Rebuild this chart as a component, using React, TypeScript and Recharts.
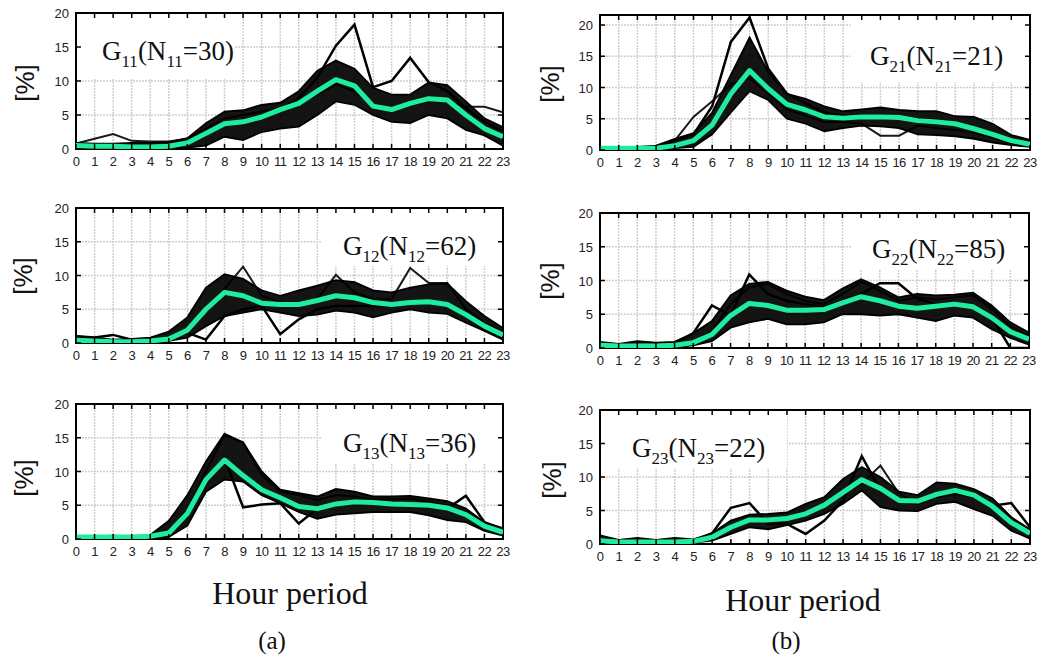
import React from 'react';
import { ComposedChart, Line, Area, XAxis, YAxis, CartesianGrid, ReferenceArea } from 'recharts';

const hours = [0,1,2,3,4,5,6,7,8,9,10,11,12,13,14,15,16,17,18,19,20,21,22,23];
const yTicks = [0, 5, 10, 15, 20];

// G11 (N=30)
const mean11 = [0.5,0.4,0.4,0.3,0.3,0.4,0.9,2.3,3.7,4.0,4.7,5.8,6.7,8.5,10.2,9.3,6.3,5.8,6.7,7.4,7.2,5.0,3.0,1.8];
const low11 = [0.2,0.1,0.1,0.1,0.1,0.1,0.2,0.5,1.8,1.3,2.5,3.0,3.3,5.0,7.0,6.5,5.0,4.0,3.8,5.0,4.5,2.8,2.0,0.5];
const high11 = [0.9,0.8,0.8,0.9,0.9,1.0,1.6,3.8,5.5,5.7,6.5,6.8,8.5,11.5,13.0,11.8,9.0,8.0,8.0,9.8,9.4,7.0,4.5,3.2];
const outA11 = [0.5,0.4,0.4,0.3,0.3,0.4,0.9,2.3,3.8,4.2,4.7,5.7,7.5,10.5,15.2,18.3,9.1,10.0,13.4,9.8,8.5,6.0,4.0,2.5];
const outB11 = [0.8,1.5,2.2,1.2,1.1,1.1,1.5,3.0,4.5,5.0,5.5,6.0,7.0,8.0,9.5,8.5,6.5,6.0,6.5,7.0,7.0,6.2,6.2,5.4];

// G12 (N=62)
const mean12 = [0.4,0.3,0.2,0.2,0.3,0.6,1.9,5.0,7.5,7.0,5.9,5.7,5.7,6.3,7.0,6.7,6.0,5.7,6.0,6.1,5.7,4.2,2.5,1.2];
const low12 = [0.1,0.1,0.1,0.1,0.2,0.3,0.8,2.5,4.0,4.5,5.0,4.5,4.0,4.2,4.8,4.5,3.8,4.5,5.0,4.5,4.3,3.0,1.8,0.5];
const high12 = [1.0,0.8,0.5,0.6,0.8,1.7,3.8,8.2,10.2,9.5,7.8,7.0,7.8,8.5,9.3,9.0,7.8,7.5,8.2,8.7,8.8,6.2,4.0,2.2];
const outA12 = [1.0,0.8,1.2,0.5,0.5,0.8,1.5,0.5,4.0,5.0,5.5,1.3,3.5,5.0,5.5,5.5,5.5,5.5,6.0,6.0,5.5,4.0,2.0,1.0];
const outB12 = [0.4,0.3,0.2,0.2,0.3,0.6,2.0,5.0,8.0,11.3,7.0,6.0,6.0,6.5,10.1,7.5,6.5,6.5,11.1,8.9,8.9,5.0,3.0,1.5];

// G13 (N=36)
const mean13 = [0.3,0.3,0.3,0.3,0.4,0.9,3.8,8.8,11.7,9.4,7.3,6.1,4.8,4.5,5.2,5.5,5.4,5.2,5.1,5.0,4.6,3.6,1.9,1.0];
const low13 = [0.1,0.1,0.1,0.1,0.1,0.3,2.0,7.0,8.8,8.5,6.5,5.3,4.0,3.0,3.6,3.8,4.0,4.0,4.0,3.5,2.8,2.5,1.2,0.5];
const high13 = [0.4,0.4,0.5,0.4,0.6,2.7,6.5,11.5,15.6,14.3,10.0,7.3,6.8,6.3,7.4,7.0,6.3,6.3,6.4,6.0,5.6,4.5,2.5,1.6];
const outA13 = [0.3,0.3,0.3,0.3,0.4,0.9,3.8,9.0,12.0,4.7,5.1,5.3,2.3,4.5,5.0,5.5,5.4,5.2,5.0,4.9,4.5,6.4,2.5,1.2];
const outB13 = [0.3,0.3,0.3,0.3,0.4,1.0,4.5,10.0,15.4,14.3,9.5,7.0,6.5,5.8,6.5,6.3,5.8,5.9,6.0,5.5,5.0,4.0,2.2,1.4];

// G21 (N=21)
const mean21 = [0.3,0.3,0.3,0.3,0.7,1.5,4.0,9.0,12.7,9.8,7.3,6.4,5.3,5.1,5.3,5.3,5.2,4.7,4.5,4.2,3.4,2.5,1.5,0.9];
const low21 = [0.1,0.1,0.1,0.2,0.3,0.5,2.5,6.0,9.4,8.0,5.0,4.2,3.0,3.5,3.9,3.8,3.5,2.5,2.4,2.2,1.8,1.2,0.8,0.5];
const high21 = [0.5,0.5,0.5,0.7,1.8,2.7,6.0,12.0,18.0,12.5,9.0,8.2,7.0,6.2,6.5,6.8,6.4,6.2,6.2,5.4,5.3,4.2,2.4,1.6];
const outA21 = [0.3,0.3,0.3,0.4,1.5,2.5,7.0,17.3,21.2,13.0,9.0,7.5,6.0,5.5,5.5,5.5,5.3,5.0,4.8,4.5,3.6,2.5,1.5,0.9];
const outB21 = [0.3,0.3,0.3,0.4,1.5,5.3,7.8,10.5,11.5,9.0,6.5,5.5,4.5,4.5,4.2,2.3,2.3,3.9,3.5,3.2,2.8,2.0,1.2,0.7];

// G22 (N=85)
const mean22 = [0.4,0.3,0.3,0.3,0.4,0.8,2.0,4.8,6.6,6.3,5.6,5.6,5.7,6.7,7.6,7.0,6.2,5.9,6.2,6.5,6.1,4.5,2.4,1.3];
const low22 = [0.1,0.1,0.1,0.1,0.1,0.4,1.0,3.0,3.8,4.3,3.5,3.5,3.8,5.0,5.0,4.8,5.0,4.5,4.0,4.8,4.5,2.8,1.5,0.5];
const high22 = [0.9,0.6,1.0,0.8,0.9,2.2,4.0,7.8,9.5,9.8,8.5,7.6,7.1,8.8,10.2,9.0,7.5,8.0,7.8,7.9,8.2,6.3,3.8,2.3];
const outA22 = [0.4,0.3,0.3,0.3,0.5,2.2,6.3,4.8,10.9,8.0,7.0,6.5,6.0,7.0,8.0,9.6,9.6,7.3,6.5,6.5,6.0,4.5,0.0,0.0];
const outB22 = [0.4,0.3,0.3,0.3,0.4,0.9,2.5,6.5,9.0,9.5,8.0,7.0,6.5,8.0,9.8,8.5,7.0,7.5,7.2,7.5,7.8,5.8,3.2,1.8];

// G23 (N=22)
const mean23 = [0.5,0.3,0.3,0.3,0.3,0.4,1.0,2.5,3.6,3.6,3.8,4.5,5.8,7.7,9.6,8.3,6.5,6.4,7.4,8.0,7.3,5.6,3.2,1.6];
const low23 = [0.2,0.1,0.1,0.1,0.1,0.2,0.5,1.5,2.5,2.2,2.8,3.5,4.5,6.0,8.0,5.5,5.0,4.9,6.0,6.3,5.2,4.2,2.0,0.8];
const high23 = [1.3,0.6,0.9,0.6,0.9,0.7,1.6,3.5,4.4,4.5,4.7,6.0,7.0,9.7,11.5,10.0,7.8,7.3,9.2,9.0,8.2,6.8,4.0,2.2];
const outA23 = [0.5,0.3,0.3,0.3,0.3,0.5,1.6,5.4,6.1,3.0,3.0,1.5,3.5,6.5,13.1,8.0,6.5,6.0,7.0,8.0,7.0,5.7,6.1,2.5];
const outB23 = [0.5,0.3,0.3,0.3,0.3,0.4,1.0,2.5,3.6,3.6,3.8,4.5,5.8,7.7,9.0,11.7,7.5,6.0,7.0,7.5,7.0,5.5,3.0,1.5];

const GREEN = '#1EEDA0';
const Y_AXIS_W = 30;
const X_AXIS_H = 26;
const M_TOP = 10;
const M_RIGHT = 14;

type PanelProps = {
  x1: number; y1: number; x2: number; y2: number; yMax: number;
  mean: number[]; low: number[]; high: number[]; outA: number[]; outB: number[];
  box: [number, number, number, number];
};

function Panel(p: PanelProps) {
  const pw = p.x2 - p.x1;
  const ph = p.y2 - p.y1;
  const W = pw + Y_AXIS_W + M_RIGHT;
  const H = ph + M_TOP + X_AXIS_H;
  const plotL = Y_AXIS_W;
  const plotR = Y_AXIS_W + pw;
  const plotT = M_TOP;
  const plotB = M_TOP + ph;
  const data = hours.map((h, i) => ({
    h,
    mean: p.mean[i],
    band: [p.low[i], p.high[i]],
    oa: p.outA[i],
    ob: p.outB[i],
  }));
  const xTick = (props: any) => {
    const { x, payload } = props;
    return (
      <g>
        <line x1={x} x2={x} y1={plotB} y2={plotB - 5} stroke="#000" strokeWidth={1.5} />
        <line x1={x} x2={x} y1={plotT} y2={plotT + 5} stroke="#000" strokeWidth={1.5} />
        <text x={x} y={plotB + 17} textAnchor="middle" fontSize={13} fill="#222"
          fontFamily="'Liberation Sans', Arial, sans-serif" letterSpacing={-0.6}>{payload.value}</text>
      </g>
    );
  };
  const yTick = (props: any) => {
    const { y, payload } = props;
    return (
      <g>
        <line x1={plotL} x2={plotL + 5} y1={y} y2={y} stroke="#000" strokeWidth={1.5} />
        <line x1={plotR} x2={plotR - 5} y1={y} y2={y} stroke="#000" strokeWidth={1.5} />
        <text x={plotL - 7} y={y + 5} textAnchor="end" fontSize={13} fill="#222"
          fontFamily="'Liberation Sans', Arial, sans-serif">{payload.value}</text>
      </g>
    );
  };
  return (
    <div style={{ position: 'absolute', left: p.x1 - Y_AXIS_W, top: p.y1 - M_TOP }}>
      <ComposedChart width={W} height={H} data={data}
        margin={{ top: M_TOP, right: M_RIGHT, left: 0, bottom: 0 }}>
        <CartesianGrid stroke="#cfcfcf" strokeWidth={1.5} strokeDasharray="2 1" />
        <XAxis dataKey="h" type="number" domain={[0, 23]} ticks={hours} interval={0}
          height={X_AXIS_H} tickLine={false} axisLine={false} tick={xTick} allowDataOverflow />
        <YAxis type="number" domain={[0, p.yMax]} ticks={yTicks} interval={0}
          width={Y_AXIS_W} tickLine={false} axisLine={false} tick={yTick} allowDataOverflow />
        <ReferenceArea x1={p.box[0]} x2={p.box[1]} y1={p.box[2]} y2={p.box[3]}
          fill="#fff" fillOpacity={1} stroke="none" ifOverflow="extendDomain" />
        <Area dataKey="band" type="linear" fill="#000" fillOpacity={0.92} stroke="#000"
          strokeWidth={1.8} isAnimationActive={false} dot={false} activeDot={false} />
        <Line dataKey="ob" type="linear" stroke="#000" strokeWidth={2} strokeOpacity={0.9} dot={false}
          isAnimationActive={false} activeDot={false} />
        <Line dataKey="oa" type="linear" stroke="#000" strokeWidth={2.5} dot={false}
          isAnimationActive={false} activeDot={false} />
        <Line dataKey="mean" type="linear" stroke={GREEN} strokeWidth={5} dot={false}
          isAnimationActive={false} activeDot={false} strokeLinejoin="round" />
        <ReferenceArea x1={0} x2={23} y1={0} y2={p.yMax} fill="none" stroke="#000"
          strokeWidth={2} ifOverflow="extendDomain" />
      </ComposedChart>
    </div>
  );
}

function GLabel(props: { left: number; baseline: number; a: string; n: string }) {
  const sub: React.CSSProperties = { fontSize: 17, verticalAlign: -7, lineHeight: 0 };
  return (
    <div style={{
      position: 'absolute', left: props.left, top: props.baseline - 24,
      fontFamily: "'Liberation Serif', 'Times New Roman', serif", fontSize: 27,
      lineHeight: '30px', color: '#111', whiteSpace: 'nowrap',
    }}>
      G<span style={sub}>{props.a}</span>(N<span style={sub}>{props.a}</span>={props.n})
    </div>
  );
}

function YLab(props: { cx: number; cy: number }) {
  return (
    <div style={{
      position: 'absolute', left: props.cx - 30, top: props.cy - 14, width: 60, height: 28,
      textAlign: 'center', transform: 'rotate(-90deg)', fontSize: 26, lineHeight: '28px',
      fontFamily: "'Liberation Sans', Arial, sans-serif", color: '#111',
    }}>[%]</div>
  );
}

function Caption(props: { cx: number; cy: number; text: string; size: number }) {
  return (
    <div style={{
      position: 'absolute', left: props.cx - 150, top: props.cy - props.size * 0.6, width: 300,
      textAlign: 'center', fontSize: props.size, lineHeight: `${props.size * 1.2}px`,
      fontFamily: "'Liberation Serif', 'Times New Roman', serif", color: '#111',
    }}>{props.text}</div>
  );
}

export default function App() {
  return (
    <div style={{ position: 'absolute', left: 0, top: 0, width: 1038, height: 665, background: '#fff', overflow: 'hidden' }}>
      <Panel x1={76} y1={13} x2={503} y2={149} yMax={20} mean={mean11} low={low11} high={high11}
        outA={outA11} outB={outB11} box={[0, 8.5, 10.4, 20]} />
      <Panel x1={76} y1={208} x2={503} y2={343} yMax={20} mean={mean12} low={low12} high={high12}
        outA={outA12} outB={outB12} box={[13.2, 23, 11.4, 20]} />
      <Panel x1={76} y1={404} x2={503} y2={539} yMax={20} mean={mean13} low={low13} high={high13}
        outA={outA13} outB={outB13} box={[13.2, 23, 11.3, 20]} />
      <Panel x1={600} y1={15} x2={1030} y2={150} yMax={21.6} mean={mean21} low={low21} high={high21}
        outA={outA21} outB={outB21} box={[13.4, 23, 10.9, 21.6]} />
      <Panel x1={600} y1={213} x2={1029} y2={348} yMax={20} mean={mean22} low={low22} high={high22}
        outA={outA22} outB={outB22} box={[13.5, 23, 11.6, 20]} />
      <Panel x1={600} y1={410} x2={1030} y2={544} yMax={20} mean={mean23} low={low23} high={high23}
        outA={outA23} outB={outB23} box={[0, 10, 11.3, 20]} />

      <GLabel left={102} baseline={60} a="11" n="30" />
      <GLabel left={343} baseline={255} a="12" n="62" />
      <GLabel left={343} baseline={452} a="13" n="36" />
      <GLabel left={870} baseline={65} a="21" n="21" />
      <GLabel left={872} baseline={258} a="22" n="85" />
      <GLabel left={632} baseline={457} a="23" n="22" />

      <YLab cx={25} cy={83} />
      <YLab cx={23} cy={276} />
      <YLab cx={24} cy={478} />
      <YLab cx={550} cy={84} />
      <YLab cx={550} cy={281} />
      <YLab cx={552} cy={480} />

      <Caption cx={290} cy={593} text="Hour period" size={32} />
      <Caption cx={803} cy={600} text="Hour period" size={32} />
      <Caption cx={272} cy={641} text="(a)" size={25} />
      <Caption cx={786} cy={641} text="(b)" size={25} />
    </div>
  );
}
